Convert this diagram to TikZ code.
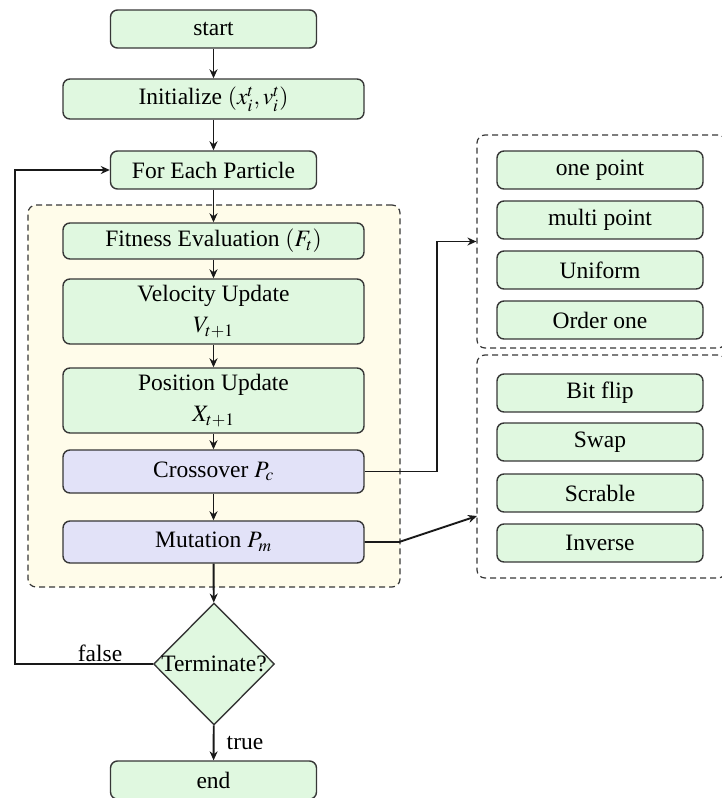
\documentclass[tikz,border=0pt]{standalone}
\usepackage{mathptmx}
\usepackage[no-math]{fontspec}
\setmainfont{Liberation Serif}
\usetikzlibrary{arrows.meta,shapes.geometric}
\definecolor{gfill}{RGB}{224,248,224}
\definecolor{pfill}{RGB}{226,226,248}
\definecolor{yfill}{RGB}{255,252,234}
\definecolor{edge}{RGB}{55,55,55}
\tikzset{
  box/.style={draw=edge, line width=1.4pt, rounded corners=7pt, fill=gfill, align=center, inner sep=0pt},
  pbox/.style={box, fill=pfill},
  dbox/.style={draw=edge, line width=1.2pt, dash pattern=on 6pt off 4pt, rounded corners=8pt, inner sep=0pt},
  arr/.style={draw=black!90, line width=1.9pt, -{Stealth[length=9pt,width=8pt]}},
}
\begin{document}
\begin{tikzpicture}[x=1pt,y=-1pt,font=\fontsize{23.5}{31}\selectfont]
\useasboundingbox (0,0) rectangle (722,798);
\clip (0,0) rectangle (722,798);
% container
\node[dbox, fill=yfill, minimum width=372pt, minimum height=382pt] (cont) at (214,396) {};
% main column
\node[box, minimum width=206pt, minimum height=38pt] (start) at (213.5,29) {start};
\node[box, minimum width=301pt, minimum height=40pt] (init) at (213.5,99) {Initialize $(x_i^t, v_i^t)$};
\node[box, minimum width=206pt, minimum height=38pt] (fep) at (213.5,170) {For Each Particle};
\node[box, minimum width=301pt, minimum height=36pt] (fit) at (213.5,241) {Fitness Evaluation $(F_t)$};
\node[box, minimum width=301pt, minimum height=65pt] (vel) at (213.5,311.5) {Velocity Update\\ $V_{t+1}$};
\node[box, minimum width=301pt, minimum height=65pt] (pos) at (213.5,400.5) {Position Update\\ $X_{t+1}$};
\node[pbox, minimum width=301pt, minimum height=43pt] (cross) at (213.5,471.5) {Crossover $P_c$};
\node[pbox, minimum width=301pt, minimum height=42pt] (mut) at (213.5,542) {Mutation $P_m$};
\node[diamond, draw=edge, line width=1.4pt, fill=gfill, minimum width=121pt, minimum height=122pt, inner sep=0pt] (term) at (214,664) {};
\node[inner sep=0pt] (termtext) at (term.center) {Terminate?};
\node[box, minimum width=206pt, minimum height=38pt] (end) at (213.5,780) {end};
% right boxes
\node[dbox, minimum width=249pt, minimum height=213pt] (cbox) at (601.5,241.5) {};
\node[box, minimum width=206pt, minimum height=38pt] (c1) at (600,170) {one point};
\node[box, minimum width=206pt, minimum height=38pt] (c2) at (600,220) {multi point};
\node[box, minimum width=206pt, minimum height=38pt] (c3) at (600,270) {Uniform};
\node[box, minimum width=206pt, minimum height=38pt] (c4) at (600,320) {Order one};
\node[dbox, minimum width=249pt, minimum height=223pt] (mbox) at (601.5,466.5) {};
\node[box, minimum width=206pt, minimum height=38pt] (m1) at (600,393) {Bit flip};
\node[box, minimum width=206pt, minimum height=38pt] (m2) at (600,442) {Swap};
\node[box, minimum width=206pt, minimum height=38pt] (m3) at (600,493) {Scrable};
\node[box, minimum width=206pt, minimum height=38pt] (m4) at (600,543) {Inverse};
% connectors
\draw[arr] (start) -- (init);
\draw[arr] (init) -- (fep);
\draw[arr] (fep) -- (fit);
\draw[arr] (fit) -- (vel);
\draw[arr] (vel) -- (pos);
\draw[arr] (pos) -- (cross);
\draw[arr] (cross) -- (mut);
\draw[arr] (mut) -- (term);
\draw[arr] (term) -- (end);
\coordinate (lc) at (15,664);
\draw[arr] (term.west) -- (lc) |- (fep.west);
\node[inner sep=0pt] (falselbl) at (100,653) {false};
\node[inner sep=0pt] (truelbl) at (245,743) {true};
\coordinate (cx) at (437,471.5);
\draw[arr] (cross.east) -- (cx) |- (cbox.west);
\coordinate (mx) at (399,542);
\coordinate (mt) at (477,516);
\draw[arr] (mut.east) -- (mx) -- (mt);
\end{tikzpicture}
\end{document}
